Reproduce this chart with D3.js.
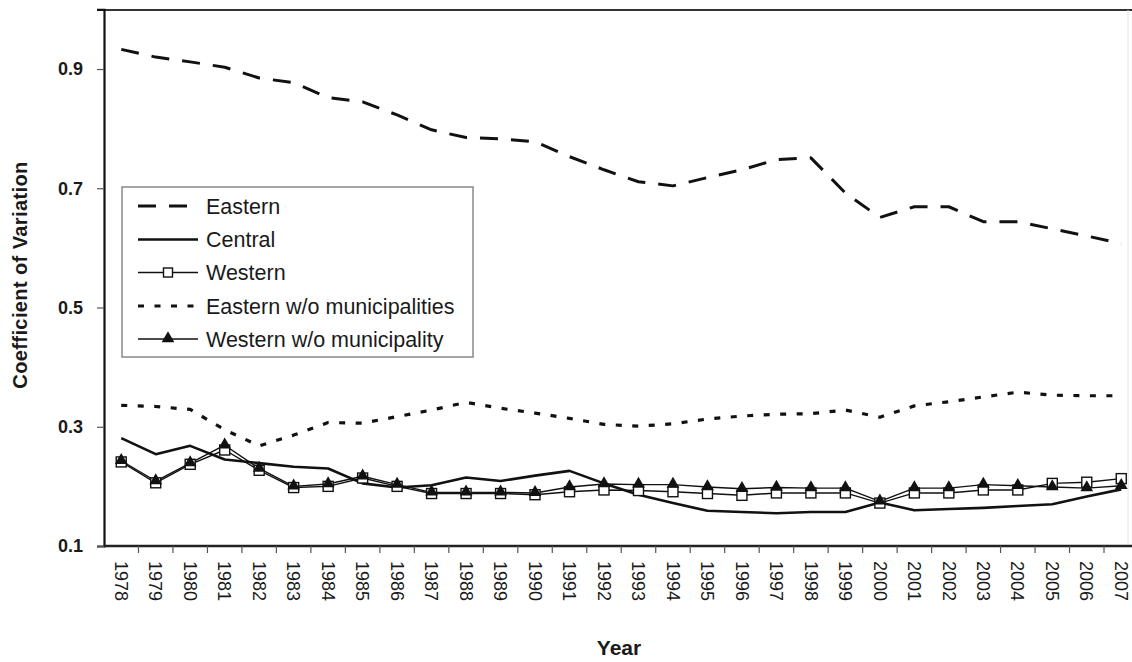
<!DOCTYPE html>
<html>
<head>
<meta charset="utf-8">
<script src="https://cdn.jsdelivr.net/npm/d3@7"></script>
<style>
  html, body { margin: 0; padding: 0; background: #fff; }
  svg { display: block; }
  text { font-family: "Liberation Sans", Arial, sans-serif; fill: #1a1a1a; }
</style>
</head>
<body>
<svg id="chart" width="1132" height="662"></svg>
<script>
// Regional coefficient of variation, 1978–2007
const years = [1978,1979,1980,1981,1982,1983,1984,1985,1986,1987,1988,1989,1990,1991,1992,
               1993,1994,1995,1996,1997,1998,1999,2000,2001,2002,2003,2004,2005,2006,2007];

const eastern = [0.933,0.920,0.912,0.903,0.885,0.877,0.852,0.845,0.823,0.798,0.785,0.783,0.778,0.753,0.731,
                 0.711,0.704,0.718,0.731,0.748,0.751,0.692,0.651,0.669,0.669,0.644,0.644,0.632,0.620,0.607];

const central = [0.281,0.254,0.268,0.245,0.239,0.233,0.230,0.205,0.198,0.202,0.215,0.209,0.218,0.226,0.205,
                 0.186,0.172,0.159,0.157,0.155,0.157,0.157,0.173,0.160,0.162,0.164,0.167,0.170,0.183,0.195];

const western = [0.241,0.206,0.237,0.261,0.227,0.198,0.200,0.214,0.200,0.188,0.188,0.188,0.186,0.191,0.194,
                 0.193,0.191,0.188,0.185,0.189,0.189,0.189,0.172,0.189,0.189,0.194,0.194,0.205,0.207,0.213];

const easternWoMunicipalities = [0.336,0.334,0.329,0.295,0.268,0.286,0.307,0.306,0.317,0.328,0.341,0.331,0.323,0.314,0.304,
                                 0.301,0.305,0.313,0.318,0.321,0.322,0.328,0.316,0.335,0.342,0.350,0.358,0.353,0.352,0.352];

const westernWoMunicipality = [0.243,0.209,0.239,0.269,0.230,0.200,0.204,0.217,0.203,0.190,0.190,0.190,0.189,0.199,0.204,
                               0.203,0.203,0.199,0.196,0.198,0.197,0.197,0.175,0.197,0.197,0.203,0.201,0.199,0.197,0.201];

const yTicks = [0.1, 0.3, 0.5, 0.7, 0.9];

const seriesNames = ["Eastern", "Central", "Western", "Eastern w/o municipalities", "Western w/o municipality"];

const svg = d3.select("#chart");
const ink = "#111";

const plot = { left: 104, right: 1138.5, top: 9.4, bottom: 546 };

const x = d3.scaleBand().domain(years).range([plot.left, plot.right]).padding(0);
const cx = d => x(d) + x.bandwidth() / 2;
const y = d3.scaleLinear().domain([0.1, 1.0]).range([plot.bottom, plot.top]);

// series styles
const styles = [
  { values: eastern, width: 3, dash: "18,13", marker: null },
  { values: central, width: 2.6, dash: null, marker: null },
  { values: western, width: 1.4, dash: null, marker: "square" },
  { values: easternWoMunicipalities, width: 3.2, dash: "6,10.5", marker: null },
  { values: westernWoMunicipality, width: 1.4, dash: null, marker: "triangle" }
];

// plot frame
svg.append("line").attr("x1", plot.left).attr("x2", plot.right).attr("y1", 10).attr("y2", 10)
  .attr("stroke", "#333").attr("stroke-width", 2);
svg.append("line").attr("x1", 1128).attr("x2", 1128).attr("y1", 10).attr("y2", plot.bottom)
  .attr("stroke", "#e4e4e4").attr("stroke-width", 1);

// y axis
const yAxis = d3.axisLeft(y).tickValues(yTicks).tickFormat(d3.format(".1f"))
  .tickSize(7).tickPadding(14);
const gy = svg.append("g").attr("transform", `translate(${plot.left},0)`).call(yAxis);
gy.select(".domain").attr("stroke", ink).attr("stroke-width", 2.2);
gy.selectAll(".tick line").attr("stroke", "#555").attr("stroke-width", 1.2);
gy.selectAll(".tick text").attr("font-size", 18).attr("font-weight", "bold")
  .attr("fill", "#1a1a1a").style("font-family", "Liberation Sans, Arial, sans-serif");

// x axis: labels centred on categories, ticks on category boundaries
const xAxis = d3.axisBottom(x).tickSize(0).tickPadding(0);
const gx = svg.append("g").attr("transform", `translate(0,${plot.bottom})`).call(xAxis);
gx.select(".domain").remove();
gx.selectAll(".tick text")
  .attr("font-size", 18)
  .attr("fill", "#1a1a1a")
  .style("font-family", "Liberation Sans, Arial, sans-serif")
  .attr("text-anchor", "start")
  .attr("dy", "0.35em")
  .attr("transform", "translate(0,15) rotate(90)");
svg.append("line").attr("x1", plot.left).attr("x2", plot.right)
  .attr("y1", plot.bottom).attr("y2", plot.bottom)
  .attr("stroke", "#222").attr("stroke-width", 2.5);
svg.append("g").selectAll("line").data(years.slice(1)).join("line")
  .attr("x1", d => x(d)).attr("x2", d => x(d))
  .attr("y1", plot.bottom).attr("y2", plot.bottom + 7)
  .attr("stroke", "#555").attr("stroke-width", 1.2);

// axis titles
svg.append("text").attr("transform", "translate(27,275) rotate(-90)")
  .attr("text-anchor", "middle").attr("font-size", 20).attr("font-weight", "bold")
  .attr("letter-spacing", 0.4).text("Coefficient of Variation");
svg.append("text").attr("x", 619).attr("y", 655)
  .attr("text-anchor", "middle").attr("font-size", 21).attr("font-weight", "bold")
  .text("Year");

// lines
const lineGen = vals => d3.line().x((d, i) => cx(years[i])).y(d => y(d))(vals);
const triangle = d3.symbol().type(d3.symbolTriangle).size(70);

styles.forEach(s => {
  svg.append("path").attr("d", lineGen(s.values))
    .attr("fill", "none").attr("stroke", ink).attr("stroke-width", s.width)
    .attr("stroke-dasharray", s.dash).attr("stroke-linejoin", "round");
});
styles.forEach(s => {
  if (s.marker === "square") {
    svg.append("g").selectAll("rect").data(s.values).join("rect")
      .attr("x", (d, i) => cx(years[i]) - 5).attr("y", d => y(d) - 5)
      .attr("width", 10).attr("height", 10)
      .attr("fill", "#fff").attr("stroke", ink).attr("stroke-width", 1.4);
  } else if (s.marker === "triangle") {
    svg.append("g").selectAll("path").data(s.values).join("path")
      .attr("d", triangle)
      .attr("transform", (d, i) => `translate(${cx(years[i])},${y(d) - 0.5})`)
      .attr("fill", ink);
  }
});

// legend
const legend = svg.append("g");
legend.append("rect").attr("x", 122).attr("y", 187).attr("width", 351).attr("height", 170)
  .attr("fill", "#fff").attr("stroke", "#888").attr("stroke-width", 1.5);
const rowY = [206, 239.5, 272.5, 306, 339];
seriesNames.forEach((name, i) => {
  const s = styles[i];
  const yy = rowY[i];
  legend.append("line").attr("x1", 138).attr("x2", 198).attr("y1", yy).attr("y2", yy)
    .attr("stroke", ink).attr("stroke-width", s.width)
    .attr("stroke-dasharray", s.dash);
  if (s.marker === "square") {
    legend.append("rect").attr("x", 163.5).attr("y", yy - 4.5).attr("width", 9).attr("height", 9)
      .attr("fill", "#fff").attr("stroke", ink).attr("stroke-width", 1.4);
  } else if (s.marker === "triangle") {
    legend.append("path").attr("d", triangle).attr("transform", `translate(168,${yy - 0.5})`)
      .attr("fill", ink);
  }
  legend.append("text").attr("x", 206).attr("y", yy).attr("dy", "0.36em")
    .attr("font-size", 21.5).text(name);
});
</script>
</body>
</html>
